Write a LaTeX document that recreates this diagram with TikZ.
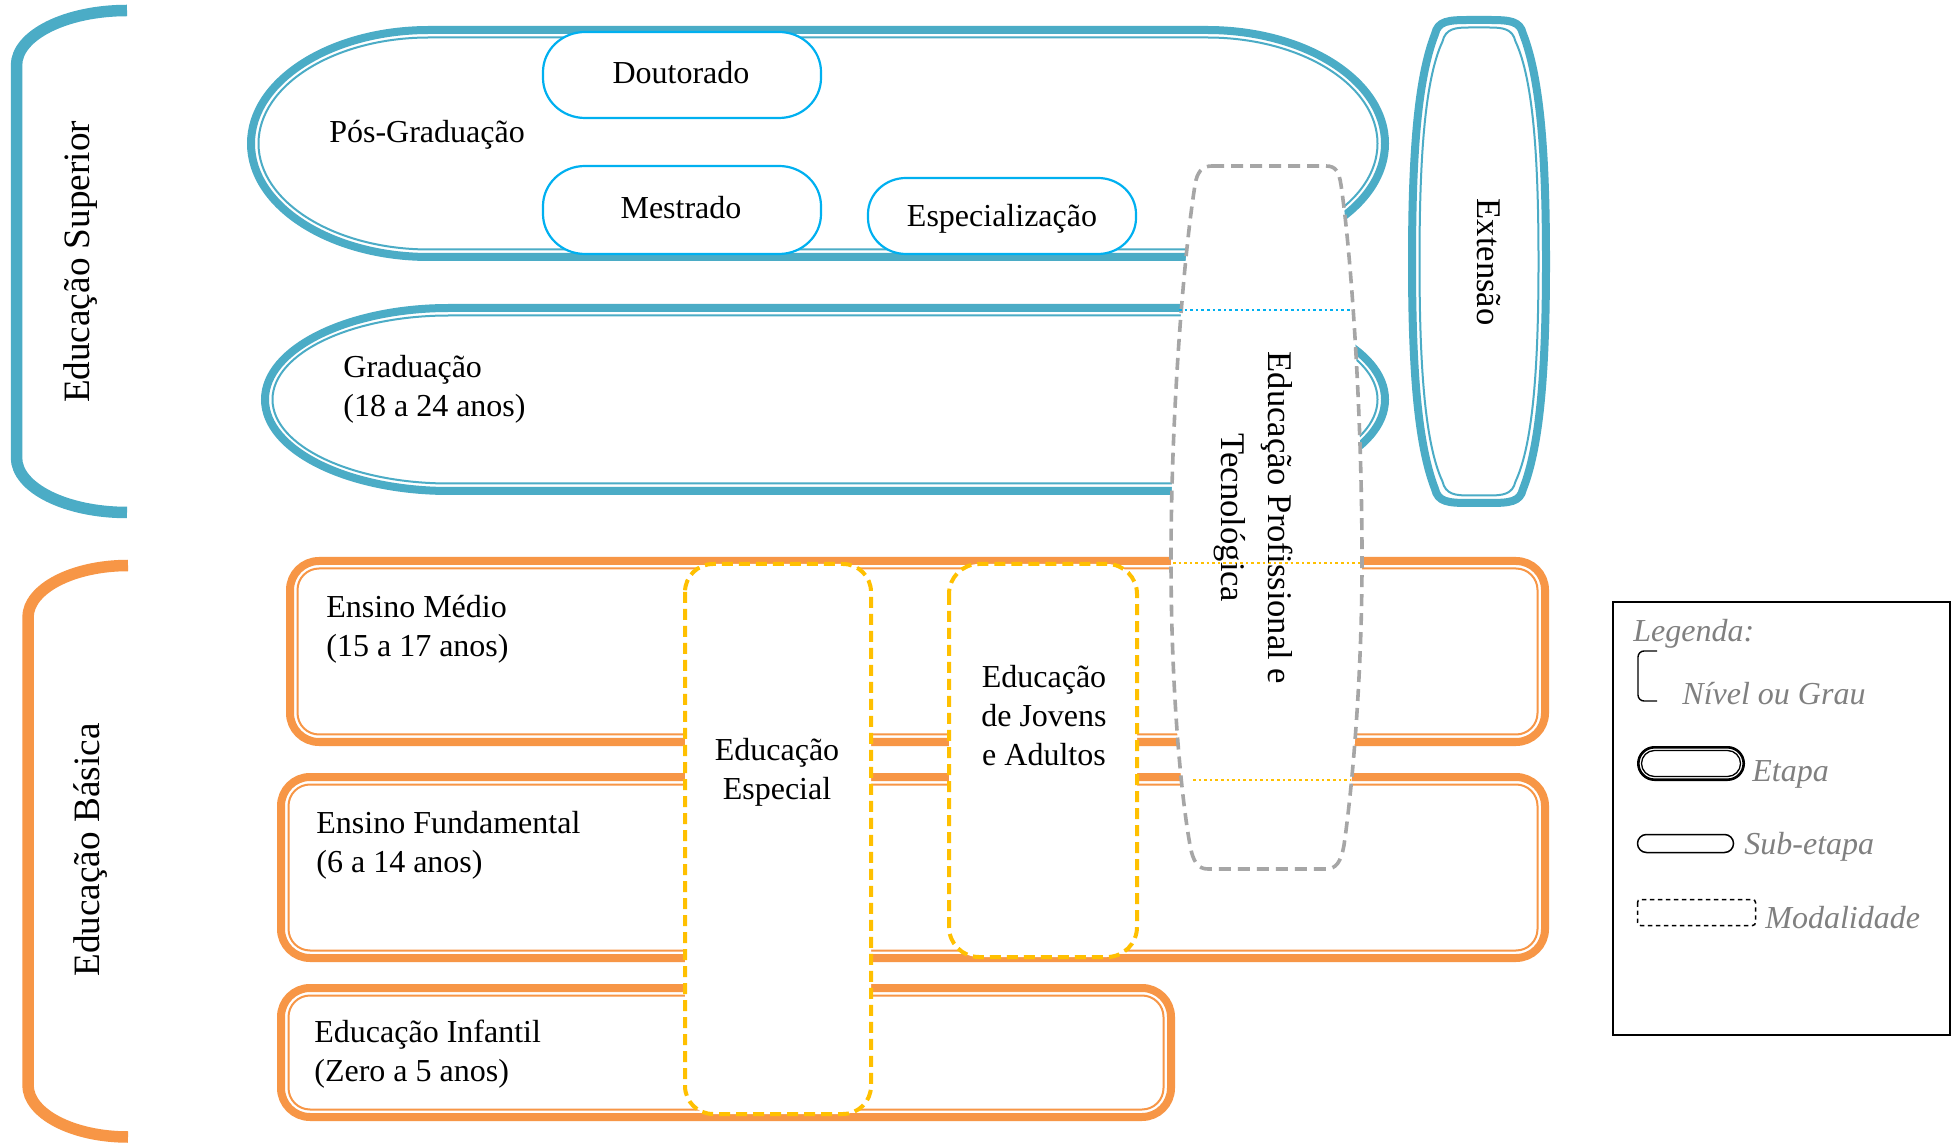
\documentclass[tikz,border=0pt]{standalone}
\usepackage{fontspec}
\setmainfont{Liberation Serif}
\definecolor{blueA}{HTML}{4BACC6}
\definecolor{orangeA}{HTML}{F79646}
\definecolor{cyanA}{HTML}{00B0F0}
\definecolor{yellowA}{HTML}{FFC000}
\definecolor{grayA}{HTML}{A6A6A6}
\definecolor{legtext}{HTML}{808080}
% elliptical-cornered rectangle: style, x1, y1, x2, y2, rx, ry
\newcommand{\erect}[7]{\draw[#1] ({#2+#6},#3) -- ({#4-#6},#3)
 .. controls ({#4-0.4477*#6},#3) and (#4,{#3+0.4477*#7}) .. (#4,{#3+#7}) -- (#4,{#5-#7})
 .. controls (#4,{#5-0.4477*#7}) and ({#4-0.4477*#6},#5) .. ({#4-#6},#5) -- ({#2+#6},#5)
 .. controls ({#2+0.4477*#6},#5) and (#2,{#5-0.4477*#7}) .. (#2,{#5-#7}) -- (#2,{#3+#7})
 .. controls (#2,{#3+0.4477*#7}) and ({#2+0.4477*#6},#3) .. ({#2+#6},#3) -- cycle;}
% barrel shape for Extensao: style, inset
\newcommand{\xbarrel}[2]{\draw[#1] (1469,{16+#2}) -- (1489,{16+#2})
 .. controls ({1514-#2},{16+#2}) and ({1524-#2},{17+#2}) .. ({1527-#2},{30+#2})
 .. controls ({1545-#2},80) and ({1550-#2},160) .. ({1550-#2},261.5)
 .. controls ({1550-#2},363) and ({1545-#2},443) .. ({1527-#2},{493-#2})
 .. controls ({1524-#2},{506-#2}) and ({1514-#2},{507-#2}) .. (1489,{507-#2})
 -- (1469,{507-#2})
 .. controls ({1444+#2},{507-#2}) and ({1434+#2},{506-#2}) .. ({1431+#2},{493-#2})
 .. controls ({1413+#2},443) and ({1408+#2},363) .. ({1408+#2},261.5)
 .. controls ({1408+#2},160) and ({1413+#2},80) .. ({1431+#2},{30+#2})
 .. controls ({1434+#2},{17+#2}) and ({1444+#2},{16+#2}) .. (1469,{16+#2}) -- cycle;}
\tikzset{
  bthick/.style={draw=blueA, line width=4pt},
  bthin/.style={draw=blueA, line width=1pt},
  othick/.style={draw=orangeA, line width=4pt},
  othin/.style={draw=orangeA, line width=1pt},
  bracketline/.style={line width=5.75pt},
  subetapa/.style={draw=cyanA, line width=1.1pt, fill=white},
  modal/.style={draw=yellowA, line width=2pt, dash pattern=on 5.5pt off 3pt, fill=white, rounded corners=14pt},
  eptline/.style={draw=grayA, line width=1.8pt, dash pattern=on 6pt off 3.5pt, fill=white},
  bdot/.style={draw=cyanA, line width=1.2pt, dash pattern=on 1.3pt off 1.5pt},
  ydot/.style={draw=yellowA, line width=1.2pt, dash pattern=on 1.3pt off 1.5pt},
  txt/.style={inner sep=0pt, font=\fontsize{16}{19.5}\selectfont},
  bigtxt/.style={inner sep=0pt, font=\fontsize{18.6}{22}\selectfont},
  rottxt/.style={inner sep=0pt, font=\fontsize{17.3}{23.5}\selectfont},
  leg/.style={inner sep=0pt, anchor=west, text=legtext, font=\fontsize{16}{19}\selectfont\itshape},
}
\begin{document}
\begin{tikzpicture}[x=0.5pt,y=-0.5pt]
\useasboundingbox[fill=white] (0,0) rectangle (1959,1143);

% ---- level brackets
\draw[bracketline, draw=blueA] (127,10.5) .. controls (66,10.5) and (16.5,35.1) .. (16.5,65.5)
  -- (16.5,457.5) .. controls (16.5,487.9) and (66,512.5) .. (127,512.5);
\draw[bracketline, draw=orangeA] (128,565.5) .. controls (72.8,565.5) and (28,588.8) .. (28,617.5)
  -- (28,1085) .. controls (28,1113.7) and (72.8,1137) .. (128,1137);

% ---- Educacao Superior etapas
\erect{bthick}{251}{30}{1385}{257}{178}{113.5}
\erect{bthin}{258.5}{37.5}{1377.5}{249.5}{170.5}{106}
\erect{bthick}{265}{308}{1385}{491}{184}{91.5}
\erect{bthin}{272.5}{315.5}{1377.5}{483.5}{176.5}{84}

% sub-etapas
\erect{subetapa}{543}{32}{821}{118}{42}{40}
\erect{subetapa}{543}{166}{821}{254}{42}{40}
\erect{subetapa}{868}{178}{1136}{254}{38}{36}

% Extensao
\xbarrel{bthick}{4}
\xbarrel{bthin}{11.5}

% ---- Educacao Basica etapas
\draw[othick, rounded corners=14.5pt] (290,561) rectangle (1545,742);
\draw[othin, rounded corners=10.75pt] (297.5,568.5) rectangle (1537.5,734.5);
\draw[othick, rounded corners=14.5pt] (281,777) rectangle (1545,958);
\draw[othin, rounded corners=10.75pt] (288.5,784.5) rectangle (1537.5,950.5);
\draw[othick, rounded corners=14.5pt] (281,988) rectangle (1171,1117);
\draw[othin, rounded corners=10.75pt] (288.5,995.5) rectangle (1163.5,1109.5);

% ---- modalidades
\draw[modal] (685,564) rectangle (871,1114);
\draw[modal, rounded corners=15pt] (949,564) rectangle (1137,957);
\draw[eptline] (1212,166) -- (1326,166) .. controls (1336,166) and (1339,172) .. (1341,185)
  .. controls (1352,260) and (1362,420) .. (1362,560)
  .. controls (1362,680) and (1352,790) .. (1344,845)
  .. controls (1341,862) and (1336,869) .. (1326,869)
  -- (1208,869) .. controls (1198,869) and (1193,862) .. (1190,845)
  .. controls (1180,790) and (1171,680) .. (1171,560)
  .. controls (1171,420) and (1183,260) .. (1195,185)
  .. controls (1197,172) and (1202,166) .. (1212,166) -- cycle;

% dotted continuation lines
\coordinate (g1) at (1179,310);
\coordinate (g2) at (1350,310);
\coordinate (m1) at (1173,563);
\coordinate (m2) at (1361,563);
\coordinate (f1) at (1193,780);
\coordinate (f2) at (1350,780);
\draw[bdot] (g1) -- (g2);
\draw[ydot] (m1) -- (m2);
\draw[ydot] (f1) -- (f2);

% ---- texts
\node[bigtxt, rotate=90] (tsup) at (81,262) {Educação Superior};
\node[bigtxt, rotate=90] (tbas) at (91,850) {Educação Básica};
\node[txt] (tpos) at (427,135) {Pós-Graduação};
\node[txt] (tdout) at (681,73) {Doutorado};
\node[txt] (tmest) at (681,208) {Mestrado};
\node[txt] (tesp) at (1002,219) {Especialização};
\node[txt, anchor=west, align=left] (tgrad) at (343,389) {Graduação\\(18 a 24 anos)};
\node[rottxt, rotate=-90] (text) at (1489,262) {Extensão};
\node[rottxt, rotate=-90, align=center] (tept) at (1253,518) {Educação Profissional e\\Tecnológica};
\node[txt, anchor=west, align=left] (tmed) at (326,629.5) {Ensino Médio\\(15 a 17 anos)};
\node[txt, anchor=west, align=left] (tfund) at (316,845.5) {Ensino Fundamental\\(6 a 14 anos)};
\node[txt, anchor=west, align=left] (tinf) at (314,1054) {Educação Infantil\\(Zero a 5 anos)};
\node[txt, align=center] (tespec) at (777,772) {Educação\\Especial};
\node[txt, align=center] (teja) at (1044,716) {Educação\\de Jovens\\e Adultos};

% ---- legend
\draw[black, line width=1pt] (1613,602) rectangle (1950,1035);
\node[leg] (lleg) at (1633,634) {Legenda:};
\draw[black, line width=0.7pt, rounded corners=3pt] (1657,651) -- (1638,651) -- (1638,701) -- (1657,701);
\node[leg] (lniv) at (1682,694) {Nível ou Grau};
\draw[black, line width=1.3pt, rounded corners=8.1pt] (1638.3,747.3) rectangle (1743.7,779.7);
\draw[black, line width=0.65pt, rounded corners=6.5pt] (1641.5,750.5) rectangle (1740.5,776.5);
\node[leg] (letapa) at (1752,774) {Etapa};
\draw[black, line width=0.75pt, rounded corners=4.5pt] (1637.5,834.5) rectangle (1733.5,852.5);
\node[leg] (lsub) at (1744,847) {Sub-etapa};
\draw[black, line width=0.75pt, dash pattern=on 2.2pt off 1.8pt, rounded corners=1.5pt] (1637.5,899.5) rectangle (1755.5,925.5);
\node[leg] (lmod) at (1765,918) {Modalidade};
\end{tikzpicture}
\end{document}
